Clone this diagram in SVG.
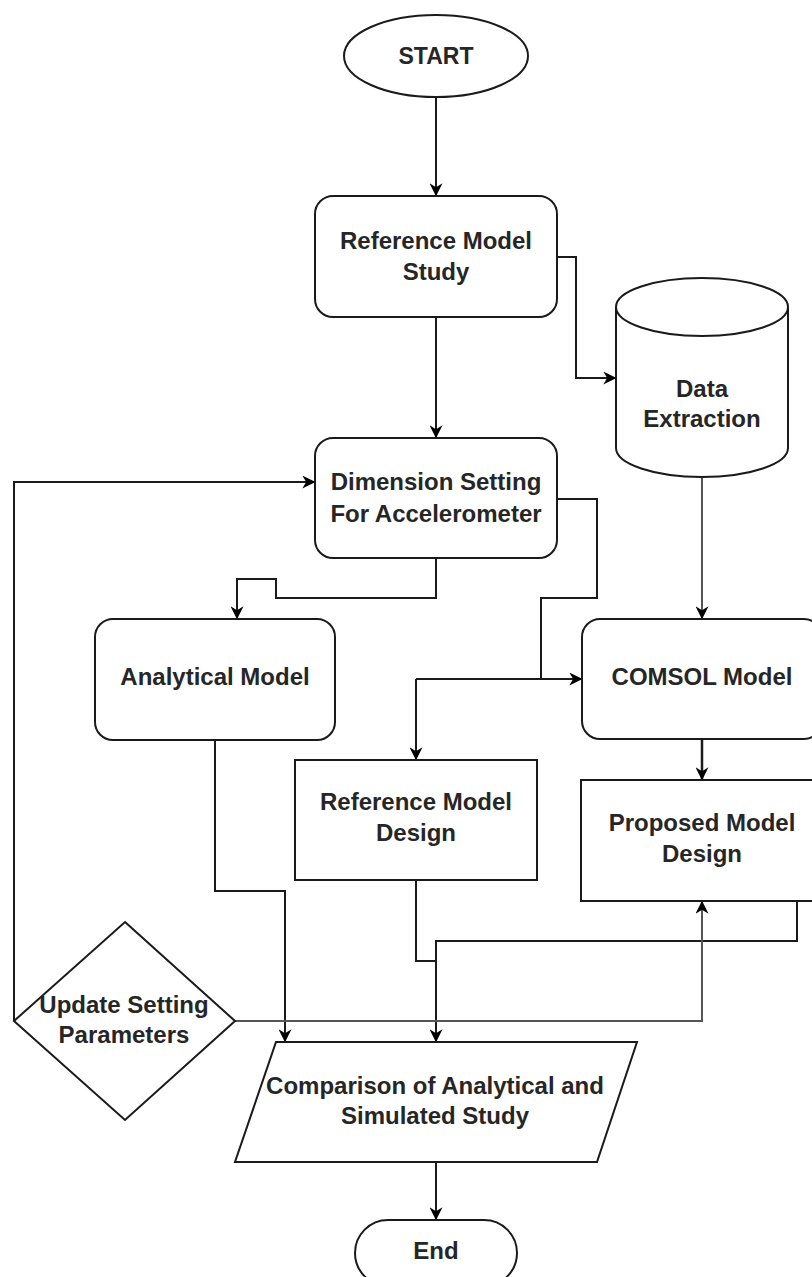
<svg xmlns="http://www.w3.org/2000/svg" width="812" height="1277" viewBox="0 0 812 1277">
<defs>
<style>
.s{fill:#fff;stroke:#1a1a1a;stroke-width:2}
.t{font-family:"Liberation Sans",Arial,sans-serif;font-weight:bold;font-size:24px;fill:#262626;text-anchor:middle}
.c{fill:none;stroke:#1a1a1a;stroke-width:2}
.g{fill:none;stroke:#555;stroke-width:2}
</style>
<marker id="a" viewBox="0 0 10 10" refX="9" refY="5" markerWidth="13" markerHeight="13" markerUnits="userSpaceOnUse" orient="auto">
<path d="M0,0 L10,5 L0,10 L3,5 Z" fill="#000"/>
</marker>
</defs>
<rect width="812" height="1277" fill="#fff"/>
<g id="connectors">
<path class="c" d="M436,97 V195" marker-end="url(#a)"/>
<path class="c" d="M436,317 V437" marker-end="url(#a)"/>
<path class="c" d="M557,257 H576 V378 H615" marker-end="url(#a)"/>
<path class="g" d="M702,477 V618" marker-end="url(#a)"/>
<path class="c" d="M436,559 V598 H276 V579 H237 V618" marker-end="url(#a)"/>
<path class="c" d="M557,499 H597 V598 H541 V679"/>
<path class="c" d="M416,679 H581" marker-end="url(#a)"/>
<path class="c" d="M416,679 V759" marker-end="url(#a)"/>
<path class="c" d="M702,739 V779" style="stroke-width:2.5" marker-end="url(#a)"/>
<path class="c" d="M215,740 V891 H285 V1041" marker-end="url(#a)"/>
<path class="c" d="M416,880 V961 H436"/>
<path class="c" d="M797,901 V941 H436 V1041" marker-end="url(#a)"/>
<path class="g" d="M235,1021 H702 V902" marker-end="url(#a)"/>
<path class="c" d="M14,1021 V482 H314" marker-end="url(#a)"/>
<path class="c" d="M436,1162 V1219" marker-end="url(#a)"/>
</g>
<g id="start">
<ellipse class="s" cx="436" cy="56" rx="92" ry="41"/>
<text class="t" x="436" y="64" style="font-size:23px">START</text>
</g>
<g id="ref-study">
<rect class="s" x="315" y="196" width="242" height="121" rx="18"/>
<text class="t" x="436" y="249">Reference Model</text>
<text class="t" x="436" y="280">Study</text>
</g>
<g id="data-extraction">
<path class="s" d="M616,307 V448 A86,29 0 0 0 788,448 V307"/>
<ellipse class="s" cx="702" cy="307" rx="86" ry="29"/>
<text class="t" x="702" y="397">Data</text>
<text class="t" x="702" y="427">Extraction</text>
</g>
<g id="dimension">
<rect class="s" x="315" y="438" width="242" height="120" rx="18"/>
<text class="t" x="436" y="490">Dimension Setting</text>
<text class="t" x="436" y="522">For Accelerometer</text>
</g>
<g id="analytical">
<rect class="s" x="95" y="619" width="240" height="121" rx="18"/>
<text class="t" x="215" y="685">Analytical Model</text>
</g>
<g id="comsol">
<rect class="s" x="582" y="619" width="240" height="120" rx="18"/>
<text class="t" x="702" y="685">COMSOL Model</text>
</g>
<g id="ref-design">
<rect class="s" x="295" y="760" width="242" height="120"/>
<text class="t" x="416" y="810">Reference Model</text>
<text class="t" x="416" y="841">Design</text>
</g>
<g id="proposed-design">
<rect class="s" x="581" y="780" width="242" height="121"/>
<text class="t" x="702" y="831">Proposed Model</text>
<text class="t" x="702" y="862">Design</text>
</g>
<g id="update">
<polygon class="s" points="125,922 235,1021 125,1120 14,1021"/>
<text class="t" x="124" y="1013">Update Setting</text>
<text class="t" x="124" y="1043">Parameters</text>
</g>
<g id="comparison">
<polygon class="s" points="276,1042 637,1042 597,1162 235,1162"/>
<text class="t" x="435" y="1094">Comparison of Analytical and</text>
<text class="t" x="435" y="1124">Simulated Study</text>
</g>
<g id="end">
<rect class="s" x="355" y="1220" width="162" height="66" rx="33"/>
<text class="t" x="436" y="1259">End</text>
</g>
</svg>
